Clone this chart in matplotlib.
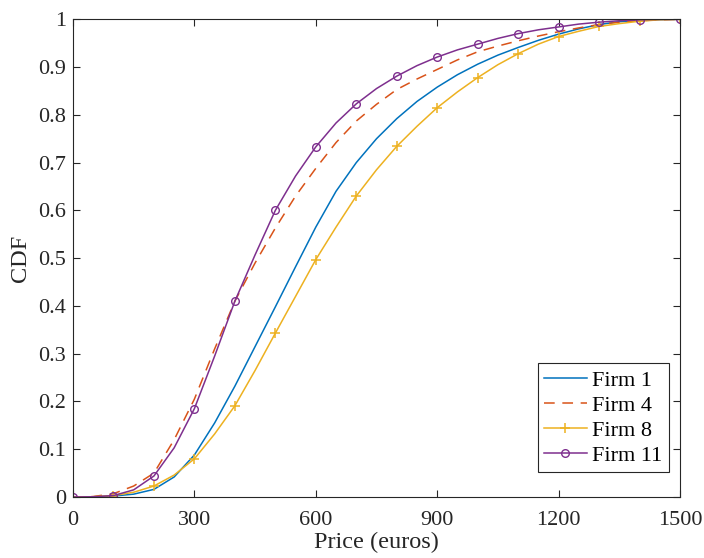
import matplotlib.pyplot as plt
import numpy as np

plt.rcParams['font.family'] = ['Liberation Serif', 'DejaVu Serif']
plt.rcParams['mathtext.fontset'] = 'stix'

# Precio (euros), cada 50
precio = np.arange(0, 1501, 50)

# CDF
firm1 = [0, 0.0005, 0.002, 0.006, 0.016, 0.042, 0.088, 0.155, 0.232, 0.315,
         0.398, 0.482, 0.565, 0.640, 0.700, 0.750, 0.792, 0.828, 0.858, 0.884,
         0.906, 0.925, 0.941, 0.956, 0.969, 0.980, 0.989, 0.995, 0.998, 0.9995, 1.0]
firm4 = [0, 0.001, 0.007, 0.023, 0.050, 0.120, 0.205, 0.310, 0.410, 0.490,
         0.563, 0.630, 0.688, 0.742, 0.787, 0.822, 0.853, 0.875, 0.895, 0.915,
         0.932, 0.944, 0.955, 0.965, 0.974, 0.982, 0.989, 0.994, 0.997, 0.999, 1.0]
firm8 = [0, 0.0005, 0.003, 0.010, 0.023, 0.046, 0.080, 0.132, 0.191, 0.265,
         0.343, 0.420, 0.497, 0.565, 0.630, 0.685, 0.734, 0.776, 0.815, 0.848,
         0.878, 0.905, 0.928, 0.948, 0.964, 0.975, 0.985, 0.991, 0.996, 0.999, 1.0]
firm11 = [0, 0.0005, 0.003, 0.015, 0.044, 0.103, 0.185, 0.295, 0.410, 0.507,
          0.600, 0.672, 0.733, 0.783, 0.823, 0.855, 0.881, 0.903, 0.921, 0.936,
          0.948, 0.960, 0.970, 0.978, 0.984, 0.990, 0.994, 0.997, 0.999, 0.9998, 1.0]

etiquetas = ['Firm 1', 'Firm 4', 'Firm 8', 'Firm 11']
xticks = [0, 300, 600, 900, 1200, 1500]
yticks = np.round(np.arange(0, 1.01, 0.1), 1)
ytick_labels = ['0', '0.1', '0.2', '0.3', '0.4', '0.5', '0.6', '0.7', '0.8', '0.9', '1']

# Crear figura y ejes
fig = plt.figure(figsize=(7.04, 5.58), dpi=100)
ax = fig.add_axes([0.1037, 0.1093, 0.8622, 0.8561])

ax.plot(precio, firm1, color='#0072BD', lw=1.1, label=etiquetas[0])
ax.plot(precio, firm4, color='#D95319', lw=1.1, ls=(0, (7, 5)), label=etiquetas[1])
ax.plot(precio, firm8, color='#EDB120', lw=1.1, marker='+', markevery=2,
        markersize=7, markeredgewidth=1.1, label=etiquetas[2])
ax.plot(precio, firm11, color='#7E2F8E', lw=1.1, marker='o', markevery=2,
        markersize=5.5, markerfacecolor='none', markeredgewidth=1.0, label=etiquetas[3])

ax.set_xlim(0, 1500)
ax.set_ylim(0, 1)
ax.set_xticks(xticks)
ax.set_yticks(yticks)
ax.set_yticklabels(ytick_labels)
ax.tick_params(direction='in', top=True, right=True, length=5, width=0.8,
               labelsize=16, colors='#262626')
ax.tick_params(axis='x', pad=10)
ax.tick_params(axis='y', pad=5)
for s in ax.spines.values():
    s.set_color('#262626')
    s.set_linewidth(0.8)

ax.set_xlabel('Price (euros)', fontsize=17.5, color='#262626', labelpad=1.5)
ax.set_ylabel('CDF', fontsize=17.5, color='#262626', labelpad=5)

leg = ax.legend(loc='lower right', bbox_to_anchor=(0.982, 0.052), borderaxespad=0,
                fontsize=16, fancybox=False, framealpha=1, edgecolor='#262626',
                handlelength=1.9, borderpad=0.3, labelspacing=0.2, handletextpad=0.25)
leg.get_frame().set_linewidth(0.8)

fig.savefig('out.png', dpi=100)
